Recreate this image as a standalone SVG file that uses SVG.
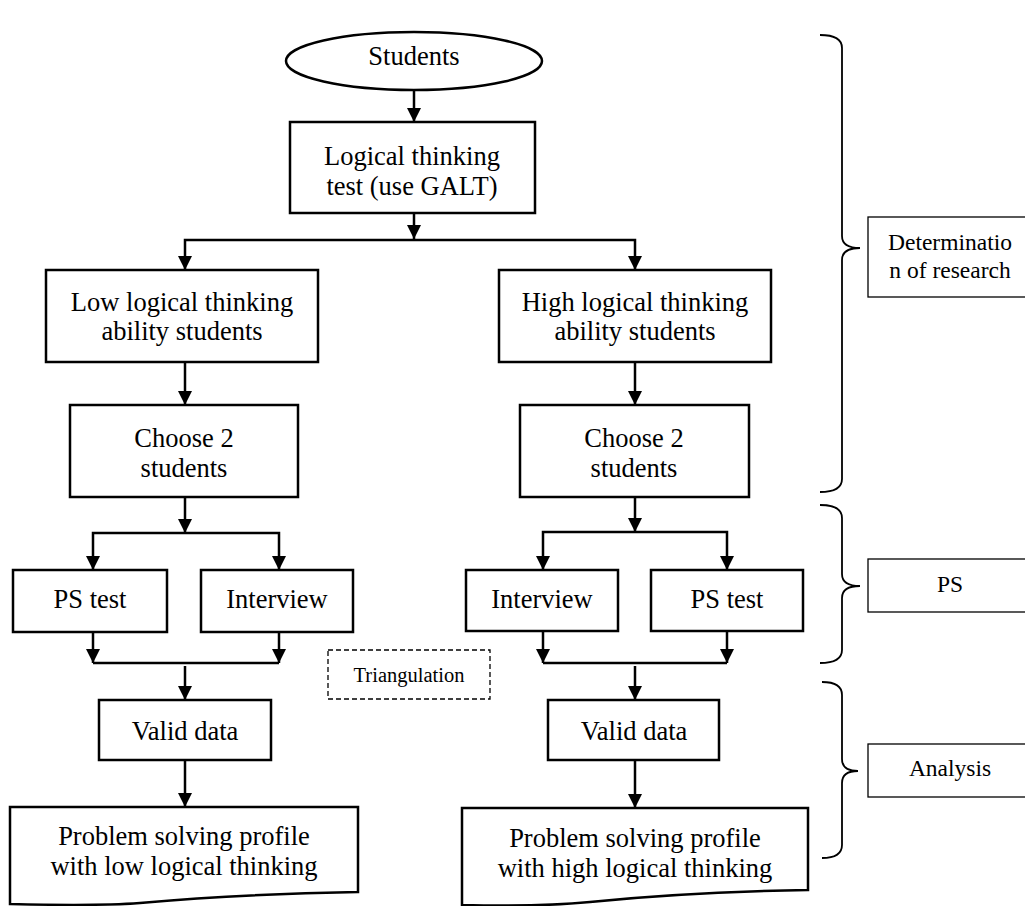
<svg xmlns="http://www.w3.org/2000/svg" width="1025" height="906" viewBox="0 0 1025 906">
<style>
  .box { fill: #fff; stroke: #000; stroke-width: 2.5; }
  .side { fill: #fff; stroke: #000; stroke-width: 1.3; }
  .dash { fill: #fff; stroke: #000; stroke-width: 1.3; stroke-dasharray: 5 3; }
  text { font-family: 'Liberation Serif', 'Times New Roman', Times, 'DejaVu Serif', serif; fill: #000; text-anchor: middle; }
  .t { font-size: 26.5px; }
  .ts { font-size: 23.5px; }
  .tt { font-size: 20.5px; }
  .c { fill: none; stroke: #000; stroke-width: 2.5; }
  .a { marker-end: url(#ah); }
  .brace { fill: none; stroke: #000; stroke-width: 1.8; }
</style>
<defs>
  <marker id="ah" markerUnits="userSpaceOnUse" markerWidth="15" markerHeight="14" refX="14" refY="7" orient="auto">
    <path d="M0,0 L14,7 L0,14 Z" fill="#000"/>
  </marker>
</defs>
<rect width="1025" height="906" fill="#fff"/>

<g id="connectors">
  <path class="c a" d="M414,91 V122"/>
  <path class="c a" d="M414,213 V239"/>
  <path class="c a" d="M414,240 H185 V270"/>
  <path class="c a" d="M414,240 H635 V270"/>
  <path class="c a" d="M185,362 V405"/>
  <path class="c a" d="M635,362 V405"/>
  <path class="c a" d="M185,497 V533"/>
  <path class="c a" d="M185,533 H93 V570"/>
  <path class="c a" d="M185,533 H279 V570"/>
  <path class="c a" d="M635,497 V532"/>
  <path class="c a" d="M635,532 H543 V570"/>
  <path class="c a" d="M635,532 H727 V570"/>
  <path class="c a" d="M93,632 V663"/>
  <path class="c a" d="M279,632 V663"/>
  <path class="c" d="M93,663 H279"/>
  <path class="c a" d="M185,666 V700"/>
  <path class="c a" d="M543,631 V663"/>
  <path class="c a" d="M727,631 V663"/>
  <path class="c" d="M543,663 H727"/>
  <path class="c a" d="M635,666 V700"/>
  <path class="c a" d="M185,760 V807"/>
  <path class="c a" d="M635,760 V808"/>
</g>

<g id="students">
  <ellipse class="box" cx="414" cy="61" rx="128" ry="29"/>
  <text class="t" x="414" y="65">Students</text>
</g>
<g id="logical-test">
  <rect class="box" x="290" y="122" width="245" height="91"/>
  <text class="t" x="412" y="165">Logical thinking</text>
  <text class="t" x="412" y="195">test (use GALT)</text>
</g>
<g id="low-ability">
  <rect class="box" x="46" y="270" width="272" height="92"/>
  <text class="t" x="182" y="311">Low logical thinking</text>
  <text class="t" x="182" y="340">ability students</text>
</g>
<g id="high-ability">
  <rect class="box" x="499" y="270" width="272" height="92"/>
  <text class="t" x="635" y="311">High logical thinking</text>
  <text class="t" x="635" y="340">ability students</text>
</g>
<g id="choose-low">
  <rect class="box" x="70" y="405" width="228" height="92"/>
  <text class="t" x="184" y="447">Choose 2</text>
  <text class="t" x="184" y="477">students</text>
</g>
<g id="choose-high">
  <rect class="box" x="520" y="405" width="229" height="92"/>
  <text class="t" x="634" y="447">Choose 2</text>
  <text class="t" x="634" y="477">students</text>
</g>
<g id="ps-test-low">
  <rect class="box" x="13" y="570" width="154" height="62"/>
  <text class="t" x="90" y="608">PS test</text>
</g>
<g id="interview-low">
  <rect class="box" x="201" y="570" width="152" height="62"/>
  <text class="t" x="277" y="608">Interview</text>
</g>
<g id="interview-high">
  <rect class="box" x="466" y="570" width="152" height="61"/>
  <text class="t" x="542" y="608">Interview</text>
</g>
<g id="ps-test-high">
  <rect class="box" x="651" y="570" width="152" height="61"/>
  <text class="t" x="727" y="608">PS test</text>
</g>
<g id="triangulation">
  <rect class="dash" x="328" y="650" width="162" height="49"/>
  <text class="tt" x="409" y="682">Triangulation</text>
</g>
<g id="valid-low">
  <rect class="box" x="99" y="700" width="172" height="60"/>
  <text class="t" x="185" y="740">Valid data</text>
</g>
<g id="valid-high">
  <rect class="box" x="548" y="700" width="171" height="60"/>
  <text class="t" x="634" y="740">Valid data</text>
</g>
<g id="profile-low">
  <path class="box" d="M10,807 H358 V892 C300,893 220,896 140,903 C100,906 50,905 10,904 Z"/>
  <text class="t" x="184" y="845">Problem solving profile</text>
  <text class="t" x="184" y="875">with low logical thinking</text>
</g>
<g id="profile-high">
  <path class="box" d="M462,808 H808 V890 C750,891 670,894 590,902 C550,906 500,906 462,905 Z"/>
  <text class="t" x="635" y="847">Problem solving profile</text>
  <text class="t" x="635" y="877">with high logical thinking</text>
</g>

<g id="brace-determination">
  <path class="brace" d="M820,35 Q842,35 842,48 V236 Q842,248 860,248 Q842,248 842,260 V479 Q842,492 820,492"/>
</g>
<g id="label-determination">
  <rect class="side" x="868" y="217" width="164" height="80"/>
  <text class="ts" x="950" y="250">Determinatio</text>
  <text class="ts" x="950" y="278">n of research</text>
</g>
<g id="brace-ps">
  <path class="brace" d="M820,505 Q842,505 842,518 V574 Q842,586 860,586 Q842,586 842,598 V650 Q842,663 820,663"/>
</g>
<g id="label-ps">
  <rect class="side" x="868" y="559" width="164" height="53"/>
  <text class="ts" x="950" y="592">PS</text>
</g>
<g id="brace-analysis">
  <path class="brace" d="M822,682 Q842,682 842,695 V759 Q842,771 858,771 Q842,771 842,783 V845 Q842,858 822,858"/>
</g>
<g id="label-analysis">
  <rect class="side" x="868" y="744" width="164" height="53"/>
  <text class="ts" x="950" y="776">Analysis</text>
</g>
</svg>
